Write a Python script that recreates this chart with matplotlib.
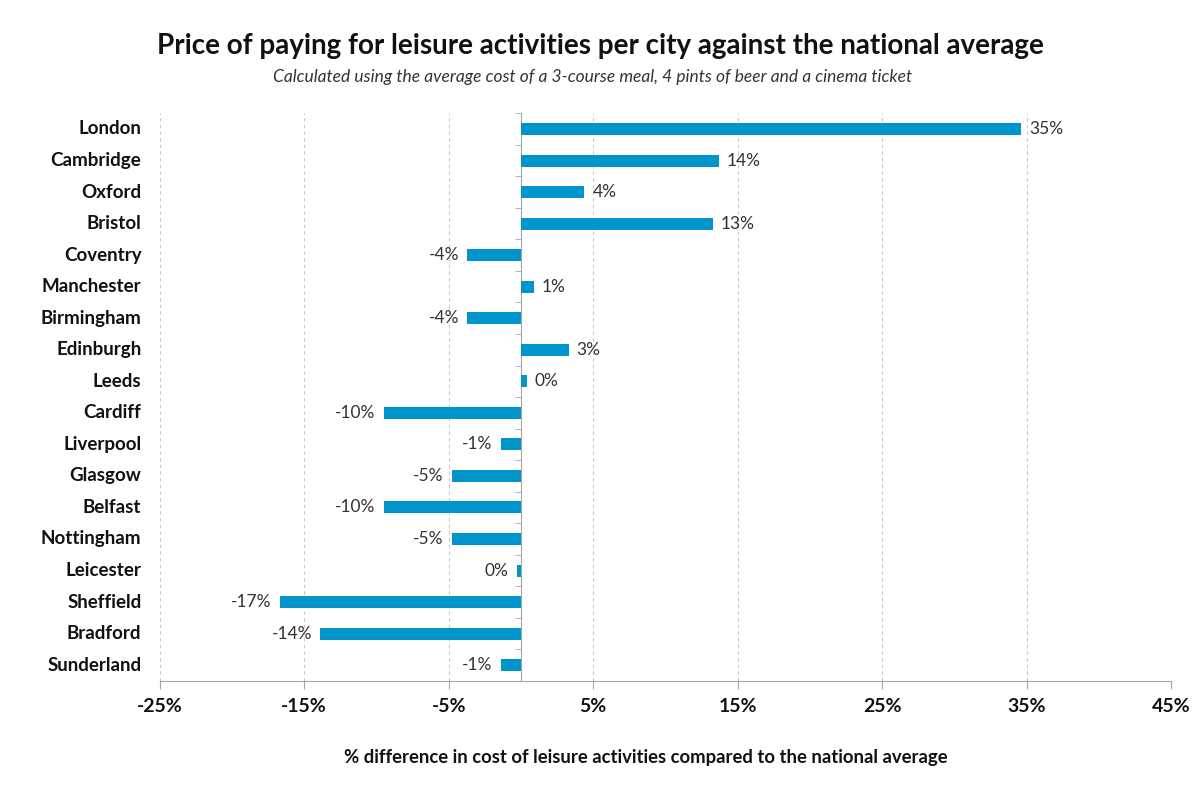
import numpy as np
import matplotlib.pyplot as plt
from matplotlib.transforms import blended_transform_factory

# Data (% difference vs national average)
cities = ["London", "Cambridge", "Oxford", "Bristol", "Coventry", "Manchester",
          "Birmingham", "Edinburgh", "Leeds", "Cardiff", "Liverpool", "Glasgow",
          "Belfast", "Nottingham", "Leicester", "Sheffield", "Bradford", "Sunderland"]
values = [34.6, 13.7, 4.4, 13.3, -3.7, 0.9,
          -3.7, 3.3, 0.4, -9.5, -1.4, -4.8,
          -9.5, -4.8, -0.3, -16.7, -13.9, -1.4]
x_ticks = [-25, -15, -5, 5, 15, 25, 35, 45]

title = "Price of paying for leisure activities per city against the national average"
subtitle = "Calculated using the average cost of a 3-course meal, 4 pints of beer and a cinema ticket"
x_label = "% difference in cost of leisure activities compared to the national average"

plt.rcParams['font.family'] = ['Lato', 'DejaVu Sans']

fig = plt.figure(figsize=(12, 7.89), dpi=100)
ax = fig.add_axes([0.133, 0.137, 0.843, 0.7195])

y = np.arange(len(cities))
ax.barh(y, values, height=0.38, color='#0095CB', zorder=3)

ax.set_xlim(-25, 45)
ax.set_ylim(len(cities) - 0.5, -0.5)

# x axis
ax.set_xticks(x_ticks)
ax.set_xticklabels([f"{t}%" for t in x_ticks], fontsize=14, fontweight='bold', color='#111111')
ax.tick_params(axis='x', direction='out', length=6, color='#A6A6A6', pad=6)
ax.xaxis.grid(True, linestyle=(0, (3, 3)), color='#C8C8C8', linewidth=0.8, zorder=0)

# y axis sits at zero, ticks between categories
ax.spines['left'].set_position(('data', 0))
ax.spines['left'].set_color('#A6A6A6')
ax.spines['bottom'].set_color('#A6A6A6')
ax.spines['top'].set_visible(False)
ax.spines['right'].set_visible(False)
ax.set_yticks([])
ax.set_yticks(np.arange(len(cities) + 1) - 0.5, minor=True)
ax.tick_params(axis='y', which='minor', direction='out', length=4, color='#A6A6A6', labelleft=False)

# category labels on the far left
trans = blended_transform_factory(ax.transAxes, ax.transData)
for i, name in enumerate(cities):
    ax.text(-0.018, i, name, transform=trans, ha='right', va='center',
            fontsize=13.5, fontweight='bold', color='#111111')

# value labels
for i, v in enumerate(values):
    lab = f"{int(round(v))}%"
    if v >= 0:
        ax.text(v + 0.55, i, lab, ha='left', va='center', fontsize=12.5, color='#333333')
    else:
        ax.text(v - 0.55, i, lab, ha='right', va='center', fontsize=12.5, color='#333333')

fig.text(0.5, 0.942, title, ha='center', va='center', fontsize=20, fontweight='bold', color='#111111')
fig.text(0.494, 0.903, subtitle, ha='center', va='center', fontsize=12.5, style='italic', color='#333333')
fig.text(0.538, 0.040, x_label, ha='center', va='center', fontsize=13.3, fontweight='bold', color='#111111')

fig.savefig("out.png", dpi=100)
